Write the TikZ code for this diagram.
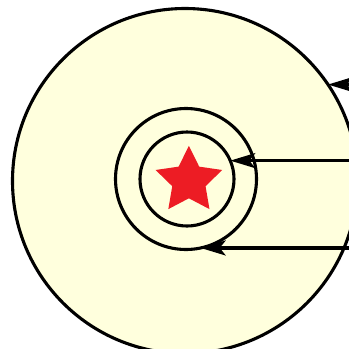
\documentclass[tikz,border=0pt]{standalone}
\usetikzlibrary{arrows.meta}
\definecolor{paleyellow}{RGB}{255,255,221}
\definecolor{starred}{RGB}{237,28,36}
\tikzset{
  ring/.style={circle, draw=black, line width=3.1pt, inner sep=0pt, outer sep=0pt},
  pointer/.style={line width=3.1pt, -{Stealth[length=25pt,width=15pt,inset=6pt]}},
}
\begin{document}
\begin{tikzpicture}[x=1pt,y=-1pt]
\useasboundingbox (0,0) rectangle (349,349);
\begin{scope}
\clip (0,0) rectangle (349,349);
\node[ring, fill=paleyellow, minimum size=345pt] (outer) at (185,181) {};
\node[ring, minimum size=141pt] (mid) at (186,179) {};
\node[ring, minimum size=94pt] (inner) at (187,179) {};
\fill[starred] (188.9,180.8) +(-90:35) -- +(-126:17.5) -- +(-162:35) -- +(-198:17.5) -- +(-234:35) -- +(-270:17.5) -- +(-306:35) -- +(-342:17.5) -- +(-18:35) -- +(-54:17.5) -- cycle;
\coordinate (xr) at (352,0);
\coordinate (e1) at (outer.34.3 -| xr);
\coordinate (e2) at (inner.23.8 -| xr);
\coordinate (e3) at (mid.-78.5 -| xr);
\draw[pointer] (e1) -- (outer.34.3);
\draw[pointer] (e2) -- (inner.23.8);
\draw[pointer] (e3) -- (mid.-78.5);
\end{scope}
\end{tikzpicture}
\end{document}
